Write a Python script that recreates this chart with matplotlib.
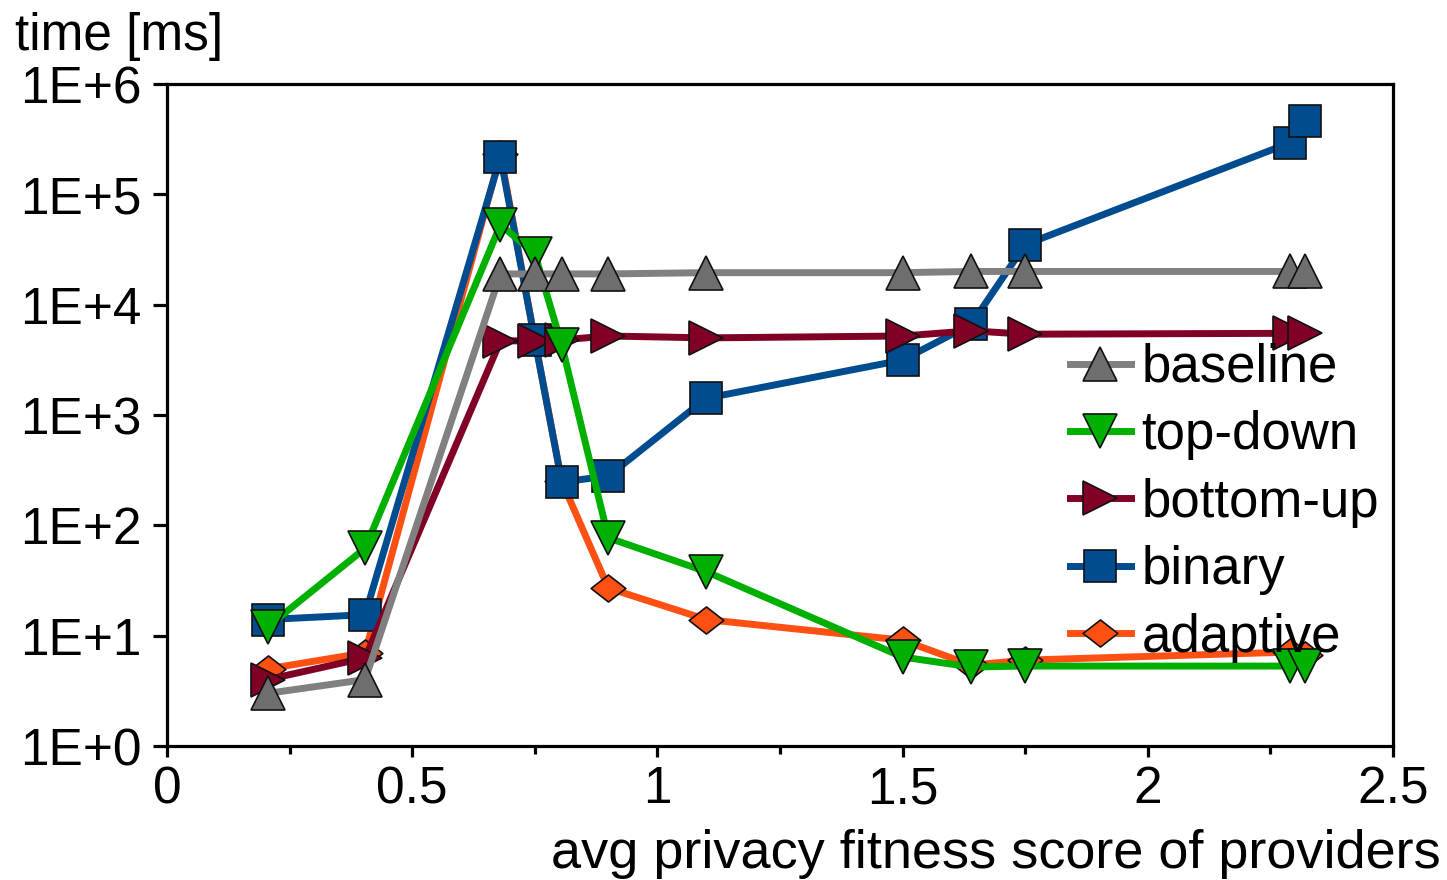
import matplotlib
matplotlib.use("Agg")
import matplotlib.pyplot as plt
from matplotlib.path import Path
from matplotlib.ticker import FixedLocator, NullFormatter

plt.rcParams['font.family'] = ['Liberation Sans', 'DejaVu Sans']

# fitness score of the provider sets
x = [0.205, 0.404, 0.68, 0.75, 0.805, 0.9, 1.1, 1.5, 1.64, 1.75, 2.29, 2.32]

baseline = [3.0, 4.0, 19000, 19000, 19000, 19000, 19500, 19500, 20000, 20000, 20000, 20000]
top_down = [12, 62, 53000, 29000, 4300, 77, 38, 6.4, 5.2, 5.3, 5.3, 5.3]
bottom_up = [4.0, 6.3, 4700, 4700, 4800, 5200, 5000, 5200, 5800, 5400, 5500, 5500]
binary = [14, 15.5, 218000, 4800, 247, 280, 1420, 3150, 6650, 35000, 293000, 460000]
adaptive = [5.0, 7.0, 230000, 4800, 250, 27, 14, 9.1, 5.4, 6.0, 7.1, 6.7]

series_names = ["baseline", "top-down", "bottom-up", "binary", "adaptive"]
y_ticks = [1, 10, 100, 1e3, 1e4, 1e5, 1e6]
y_tick_labels = ["1E+0", "1E+1", "1E+2", "1E+3", "1E+4", "1E+5", "1E+6"]
x_ticks = [0, 0.5, 1, 1.5, 2, 2.5]
x_tick_labels = ["0", "0.5", "1", "1.5", "2", "2.5"]

FS = 37

# flattened diamond marker
flat_diamond = Path([(-1, 0), (0, 0.78), (1, 0), (0, -0.78), (-1, 0)],
                    [Path.MOVETO, Path.LINETO, Path.LINETO, Path.LINETO, Path.CLOSEPOLY])

styles = {
    "baseline": dict(color="#808080", mfc="#6E6E6E", marker="^", ms=24),
    "top-down": dict(color="#00B000", mfc="#00B000", marker="v", ms=24),
    "bottom-up": dict(color="#800026", mfc="#800026", marker=">", ms=24),
    "binary": dict(color="#004C8F", mfc="#004C8F", marker="s", ms=23.5),
    "adaptive": dict(color="#FF5014", mfc="#FF5014", marker=flat_diamond, ms=25),
}
data = {"baseline": baseline, "top-down": top_down, "bottom-up": bottom_up,
        "binary": binary, "adaptive": adaptive}

W, H = 1447, 880
fig = plt.figure(figsize=(W / 100, H / 100), dpi=100)
ax = fig.add_axes([167 / W, (H - 746) / H, (1393 - 167) / W, (746 - 84) / H])

handles = {}
# later legend entries go underneath
for z, name in enumerate(reversed(series_names)):
    st = styles[name]
    h, = ax.plot(x, data[name], color=st["color"], lw=5, marker=st["marker"],
                 ms=st["ms"], mfc=st["mfc"], mec="#111111", mew=1.2,
                 zorder=3 + z, label=name, clip_on=False)
    handles[name] = h

ax.set_yscale("log")
ax.set_ylim(1, 1e6)
ax.set_xlim(0, 2.5)
ax.yaxis.set_major_locator(FixedLocator(y_ticks))
ax.set_yticklabels(y_tick_labels)
ax.yaxis.set_minor_locator(FixedLocator([]))
ax.yaxis.set_minor_formatter(NullFormatter())
ax.set_xticks(x_ticks)
ax.set_xticklabels(x_tick_labels)
ax.set_xticks([0.25, 0.75, 1.25, 1.75, 2.25], minor=True)

for s in ax.spines.values():
    s.set_linewidth(2.3)
    s.set_color("black")

ax.tick_params(axis="both", which="major", direction="out", width=2.3,
               labelsize=FS, color="black")
ax.tick_params(axis="x", which="major", length=8, pad=6)
ax.tick_params(axis="y", which="major", length=10, pad=8)
ax.tick_params(axis="x", which="minor", direction="out", width=2.3, length=6)

fig.text(15 / W, 1 - 50 / H, "time [ms]", fontsize=FS, ha="left", va="baseline")
fig.text(1441 / W, 1 - 868 / H, "avg privacy fitness score of providers",
         fontsize=39, ha="right", va="baseline")

leg = ax.legend([handles[n] for n in series_names], series_names,
                loc="upper left", bbox_to_anchor=((1070 - 167) / (1393 - 167), (746 - 343) / (746 - 84)),
                frameon=False, fontsize=38, handlelength=1.15, handletextpad=0.2,
                labelspacing=0.33, borderpad=0, borderaxespad=0, markerscale=1.0)
leg.set_zorder(20)

fig.savefig("out.png", dpi=100)
